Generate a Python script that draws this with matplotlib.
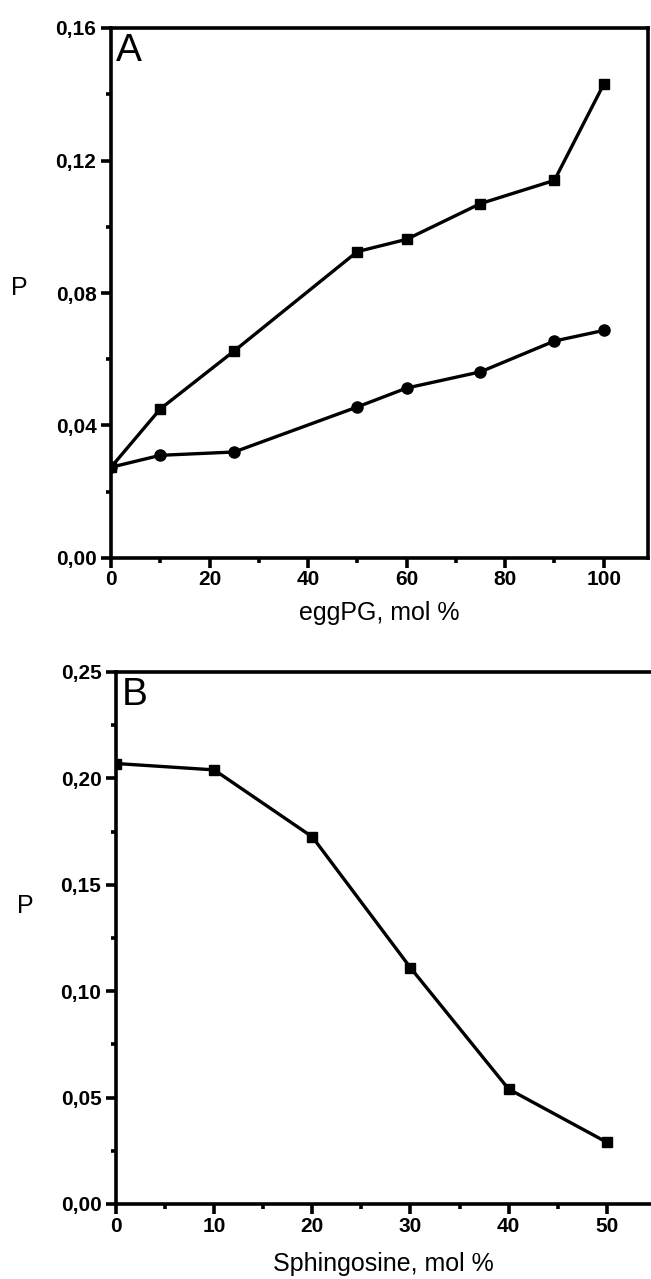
import numpy as np
import matplotlib
matplotlib.use('Agg')
from matplotlib import pyplot as plt
from matplotlib.ticker import MultipleLocator, FuncFormatter

# panel A data
pg_mol = [0, 10, 25, 50, 60, 75, 90, 100]
p_square = [0.0274, 0.045, 0.0625, 0.0925, 0.0962, 0.107, 0.114, 0.143]
p_circle = [0.0274, 0.031, 0.032, 0.0456, 0.0513, 0.0562, 0.0655, 0.0687]

# panel B data
sph_mol = [0, 10, 20, 30, 40, 50]
p_sph = [0.207, 0.204, 0.1725, 0.111, 0.054, 0.029]

plt.rcParams['font.family'] = ['Liberation Sans', 'DejaVu Sans']

fig = plt.figure(figsize=(6.51, 12.79), dpi=100)
axA = fig.add_axes([111/651, 1-558/1279, (648-111)/651, (558-28)/1279])
axB = fig.add_axes([116/651, 1-1204/1279, (651-116)/651, (1204-672)/1279])

comma = FuncFormatter(lambda v, pos: f"{v:.2f}".replace('.', ','))


def style(ax):
    for s in ax.spines.values():
        s.set_linewidth(2.6)
    ax.tick_params(which='major', direction='out', length=7.5, width=2.6,
                   labelsize=15, pad=1.5)
    ax.tick_params(axis='y', which='major', pad=3)
    ax.tick_params(which='minor', direction='out', length=3.5, width=2.6)
    for lab in ax.get_xticklabels() + ax.get_yticklabels():
        lab.set_fontweight('bold')
    ax.yaxis.set_major_formatter(comma)


axA.plot(pg_mol, p_square, color='black', lw=2.4, marker='s', ms=7)
axA.plot(pg_mol, p_circle, color='black', lw=2.4, marker='o', ms=8)
axA.set_xlim(0, 109)
axA.set_ylim(0, 0.16)
axA.xaxis.set_major_locator(MultipleLocator(20))
axA.xaxis.set_minor_locator(MultipleLocator(10))
axA.yaxis.set_major_locator(MultipleLocator(0.04))
axA.yaxis.set_minor_locator(MultipleLocator(0.02))
style(axA)
axA.set_xlabel('eggPG, mol %', fontsize=18, labelpad=8)
axA.set_ylabel('P', fontsize=18, rotation=0)
axA.yaxis.set_label_coords(-0.17, 0.487)
axA.text(0.01, 0.99, 'A', transform=axA.transAxes, fontsize=28,
         va='top', ha='left')

axB.plot(sph_mol, p_sph, color='black', lw=2.4, marker='s', ms=7)
axB.set_xlim(0, 54.5)
axB.set_ylim(0, 0.25)
axB.xaxis.set_major_locator(MultipleLocator(10))
axB.xaxis.set_minor_locator(MultipleLocator(5))
axB.yaxis.set_major_locator(MultipleLocator(0.05))
axB.yaxis.set_minor_locator(MultipleLocator(0.025))
style(axB)
axB.spines['right'].set_visible(False)
axB.set_xlabel('Sphingosine, mol %', fontsize=18, labelpad=12)
axB.set_ylabel('P', fontsize=18, rotation=0)
axB.yaxis.set_label_coords(-0.17, 0.538)
axB.text(0.01, 0.99, 'B', transform=axB.transAxes, fontsize=28,
         va='top', ha='left')

fig.savefig('out.png', dpi=100)
